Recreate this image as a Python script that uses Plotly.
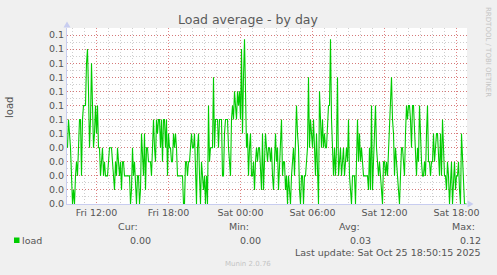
import pandas as pd
import plotly.graph_objects as go

# ---- data ----
load = [
    0.04,0.06,0.05,0.04,0.02,0.00,0.01,0.00,0.02,0.03,0.02,0.05,0.06,0.06,0.02,0.06,0.07,0.07,0.07,0.10,
    0.11,0.08,0.04,0.06,0.10,0.07,0.04,0.05,0.07,0.05,0.07,0.04,0.04,0.02,0.03,0.04,0.02,0.03,0.02,0.02,
    0.02,0.03,0.04,0.04,0.04,0.03,0.02,0.01,0.03,0.02,0.04,0.03,0.02,0.03,0.01,0.03,0.03,0.02,0.02,0.02,
    0.02,0.02,0.02,0.00,0.01,0.04,0.02,
    0.03,0.01,0.00,0.02,0.02,0.00,0.01,0.05,0.03,0.02,0.05,0.01,0.04,0.04,0.03,0.03,0.03,0.02,0.04,0.06,
    0.04,0.03,0.06,0.05,0.06,0.06,0.04,0.06,0.03,0.06,0.06,0.04,0.06,0.02,0.05,0.04,0.04,0.03,0.03,0.05,
    0.04,0.05,0.04,0.02,0.02,0.02,0.02,0.02,0.02,0.00,0.00,0.03,0.03,0.02,0.03,0.03,0.04,0.05,0.04,0.04,
    0.05,0.02,0.00,0.04,0.05,0.02,0.00,
    0.03,0.02,0.01,0.02,0.00,0.02,0.00,0.07,0.03,0.04,0.04,0.04,0.09,0.04,0.06,0.06,0.06,0.04,0.06,0.06,
    0.06,0.02,0.02,0.05,0.06,0.06,0.06,0.04,0.03,0.02,0.06,0.07,0.06,0.08,0.07,0.06,0.08,0.07,0.08,0.06,
    0.11,0.05,0.09,0.117,0.08,0.04,0.05,0.02,0.04,0.05,0.02,0.02,0.03,0.01,0.03,0.04,0.03,0.04,0.04,0.02,
    0.01,0.05,0.01,0.03,0.05,0.04,0.03,
    0.04,0.04,0.03,0.04,0.02,0.01,0.03,0.05,0.03,0.04,0.01,0.03,0.04,0.06,0.02,0.03,0.03,0.01,0.02,0.00,
    0.02,0.01,0.00,0.02,0.03,0.04,0.02,0.04,0.07,0.05,0.04,0.01,0.00,0.02,0.02,0.00,0.02,0.02,0.03,0.04,
    0.09,0.04,0.06,0.05,0.04,0.06,0.03,0.02,0.05,0.01,0.00,0.08,0.05,0.04,0.06,0.04,0.05,0.04,0.04,0.06,
    0.07,0.07,0.117,0.06,0.04,0.02,
    0.04,
    0.02,0.04,0.09,0.02,0.03,0.04,0.02,0.03,0.04,0.02,0.03,0.04,0.03,0.06,0.02,0.01,0.00,0.02,0.02,0.02,
    0.00,0.04,0.06,0.03,0.05,0.03,0.04,0.03,0.02,0.02,0.02,0.02,0.02,0.01,0.04,0.01,0.07,0.01,0.03,0.04,
    0.07,0.04,0.03,0.02,0.03,0.02,0.01,0.00,0.03,0.03,0.02,0.03,0.02,0.04,0.05,0.08,0.09,0.06,0.05,0.02,
    0.04,0.03,0.02,0.01,0.00,0.02,0.04,
    0.04,0.03,0.02,0.05,0.07,0.06,0.07,0.07,0.06,0.04,0.07,0.07,0.05,0.03,0.02,0.04,0.03,0.07,0.04,0.03,
    0.02,0.02,0.03,0.02,0.05,0.07,0.03,0.03,0.02,0.03,0.03,0.05,0.03,0.04,0.05,0.05,0.03,0.02,0.05,0.02,
    0.06,0.04,0.02,0.02,0.01,0.03,0.02,0.00,0.02,0.03,0.00,0.02,0.03,0.01,0.02,0.02,0.03,0.01,0.00,0.05,
    0.03,0.02,0.00,0.00,0.00,
]
end_time = "2025-10-25 18:50"
y_tickvals = [0.00, 0.01, 0.02, 0.03, 0.04, 0.05, 0.06, 0.07, 0.08, 0.09, 0.10, 0.11, 0.12]
y_ticktext = ["0.0", "0.0", "0.0", "0.0", "0.0", "0.1", "0.1", "0.1", "0.1", "0.1", "0.1", "0.1", "0.1"]
legend_name = "load"
stats_labels = ["Cur:", "Min:", "Avg:", "Max:"]
stats_values = ["0.00", "0.00", "0.03", "0.12"]
last_update = "Last update: Sat Oct 25 18:50:15 2025"

times = pd.date_range(end=end_time, periods=len(load), freq="5min")

# ---- layout geometry (pixels) ----
W, H = 497, 275
L, R, T, B = 67, 467, 28, 204
PW, PH = R - L, B - T


def px(x):
    return (x - L) / PW


def py(y):
    return (B - y) / PH


FONT = "DejaVu Sans"
TXT = "#555555"
MAJ = "rgba(215,100,100,0.8)"
MIN = "rgba(185,185,185,0.7)"
AXC = "#c8cdf0"
DASH = "1px,2px"

fig = go.Figure()
fig.add_trace(go.Scatter(x=times, y=load, mode="lines",
                         line=dict(color="#00cc00", width=1.1), hoverinfo="skip"))

half = pd.Timedelta(minutes=2.5)
fig.update_layout(
    width=W, height=H,
    margin=dict(l=L, r=W - R, t=T, b=H - B, pad=0),
    paper_bgcolor="#f0f0f0", plot_bgcolor="#ffffff",
    showlegend=False,
    font=dict(family=FONT, size=9, color=TXT),
    xaxis=dict(range=[times[0] - half, times[-1] + half], type="date",
               tick0="2025-10-24 00:00", dtick=6 * 3600 * 1000,
               tickformat="%a %H:%M", showgrid=True, gridcolor=MAJ, griddash=DASH,
               gridwidth=1, ticks="", showline=True, linecolor=AXC, linewidth=1,
               zeroline=False, tickfont=dict(size=9.5, color=TXT),
               minor=dict(dtick=3600 * 1000, showgrid=True, gridcolor=MIN,
                          griddash=DASH, gridwidth=1)),
    yaxis=dict(range=[0, 0.125], tickmode="array", tickvals=y_tickvals,
               ticktext=y_ticktext, showgrid=True, gridcolor=MAJ, griddash=DASH,
               gridwidth=1, ticks="", showline=True, linecolor=AXC, linewidth=1,
               zeroline=False, tickfont=dict(size=9.5, color=TXT),
               minor=dict(tick0=0, dtick=0.005, showgrid=True, gridcolor=MIN,
                          griddash=DASH, gridwidth=1)),
)

ann = []


def text(x, y, s, size=9, color=TXT, xanchor="center", yanchor="middle", angle=0):
    ann.append(dict(x=px(x), y=py(y), xref="paper", yref="paper", text=s,
                    showarrow=False, xanchor=xanchor, yanchor=yanchor,
                    textangle=angle, font=dict(family=FONT, size=size, color=color)))


text(248, 19, "Load average - by day", size=12.5, color="#5a5a5a")
text(9, 108, "load", size=10, angle=-90)
text(488, 5, "RRDTOOL / TOBI OETIKER", size=7, color="#c4c4c4", yanchor="top", angle=90)

# legend row
text(20, 240, legend_name, size=9.5, xanchor="left")
lab_x = [140, 251, 362, 477]
val_x = [153, 263, 373, 483]
for lx, vx, lab, val in zip(lab_x, val_x, stats_labels, stats_values):
    text(lx, 226, lab, size=9.5, xanchor="right")
    text(vx, 240, val, size=9.5, xanchor="right")
text(483, 252, last_update, size=9.5, xanchor="right")
text(248, 264, "Munin 2.0.76", size=7, color="#c4c4c4")
fig.update_layout(annotations=ann)

shapes = []
# legend square
shapes.append(dict(type="rect", xref="paper", yref="paper", x0=px(14), x1=px(19.5),
                   y0=py(243), y1=py(237.5), fillcolor="#00cc00", line=dict(width=0)))


def tri(pts):
    d = "M " + " L ".join(f"{px(a)},{py(b)}" for a, b in pts) + " Z"
    return dict(type="path", xref="paper", yref="paper", path=d,
                fillcolor=AXC, line=dict(width=0))


shapes.append(tri([(67, 21.5), (63.5, 27.5), (70.5, 27.5)]))
shapes.append(tri([(473.5, 204), (467.5, 200.5), (467.5, 207.5)]))
fig.update_layout(shapes=shapes)

fig.write_html("out.html")
